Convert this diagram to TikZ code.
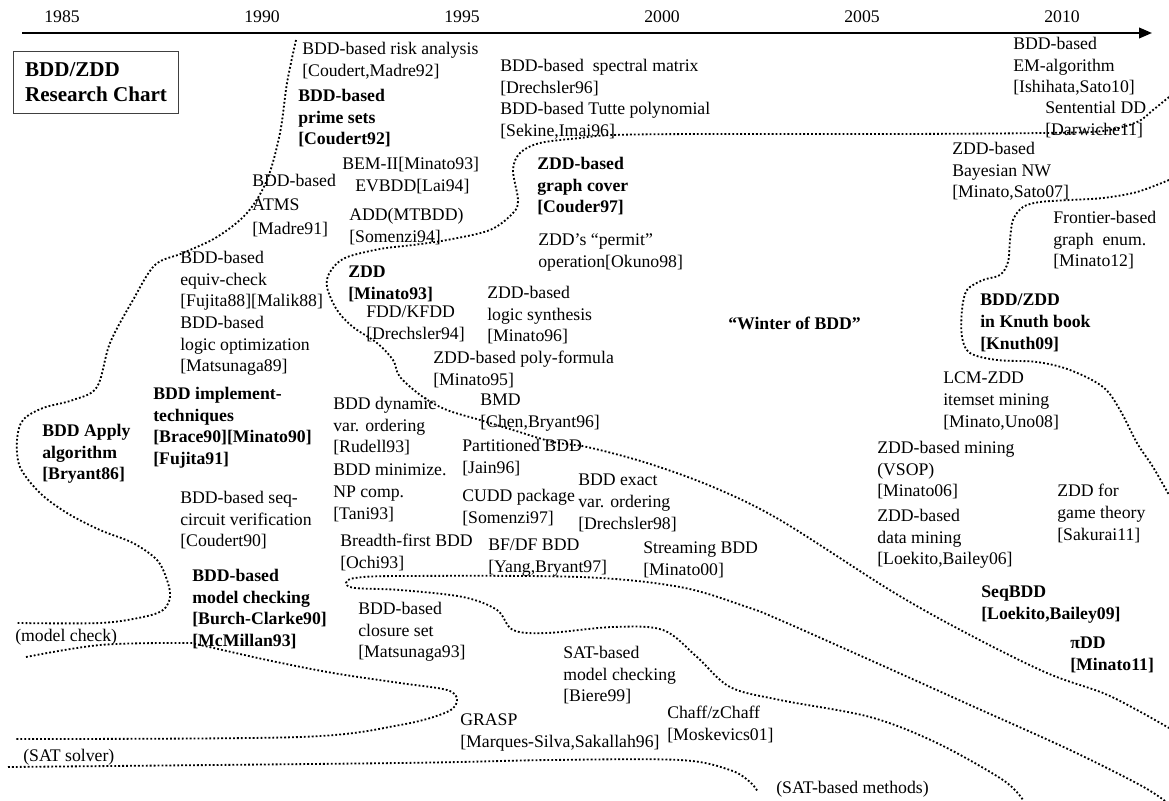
\documentclass[tikz,border=0pt]{standalone}
\usepackage{fontspec}
\setmainfont{Liberation Serif}
\usetikzlibrary{arrows.meta}
\tikzset{
  lb/.style={anchor=north west,align=left,inner sep=0pt,font=\fontsize{12.6}{15.6}\selectfont},
  lbb/.style={lb,font=\fontsize{12.6}{15.6}\selectfont\bfseries},
  yr/.style={inner sep=0pt,font=\fontsize{12.6}{15.6}\selectfont},
  ttl/.style={draw=black!75,line width=.7pt,align=left,inner sep=0pt,
    minimum width=4.125cm,minimum height=1.55cm,font=\fontsize{15}{17.7}\selectfont\bfseries},
  ax/.style={-{Triangle[length=3.2mm,width=2.6mm]},line width=1.5pt},
  % region borders: a dense row of small square dots
  dl/.style={line width=1.3pt,dash pattern=on 1.3pt off 1.5pt},
}
\begin{document}
\begin{tikzpicture}[x=0.025cm,y=-0.025cm]
\useasboundingbox (0,0) rectangle (1169,801);
% time axis
\coordinate (t0) at (22,33);
\coordinate (t1) at (1152,33);
\draw[ax] (t0) -- (t1);
\foreach \yr [count=\i from 0] in {1985,1990,1995,2000,2005,2010}
  \node[yr] (y\yr) at (62+200*\i,17) {\yr};
\node[ttl,anchor=north west] (chart) at (13,51) {BDD/ZDD\\Research Chart};

% left column
\node[lb] (risk) at (302,41.5) {BDD-based risk analysis\\{[Coudert,Madre92]}};
\node[lbb] (prime) at (298,88.5) {BDD-based\\prime sets\\{[Coudert92]}};
\node[lb] (bem) at (342,156.5) {BEM-II[Minato93]};
\node[lb] (evbdd) at (355,178.5) {EVBDD[Lai94]};
\node[lb] (add) at (349,207.5) {ADD(MTBDD)\\{[Somenzi94]}};
\node[lb] (atms) at (252,173.5) {BDD-based\\[1.5pt]ATMS\\[1.5pt]{[Madre91]}};
\node[lb] (equiv) at (180,250.5) {BDD-based\\equiv-check\\{[Fujita88][Malik88]}};
\node[lb] (lopt) at (180,315.5) {BDD-based\\logic optimization\\{[Matsunaga89]}};
\node[lbb] (impl) at (153,386.5) {BDD implement-\\techniques\\{[Brace90][Minato90]}\\{[Fujita91]}};
\node[lbb] (apply) at (42,423.5) {BDD Apply\\algorithm\\{[Bryant86]}};
\node[lb] (seqc) at (180,490.5) {BDD-based seq-\\circuit verification\\{[Coudert90]}};
\node[lbb] (mc) at (192,568.5) {BDD-based\\model checking\\{[Burch-Clarke90]}\\{[McMillan93]}};
\node[lb] (mcl) at (15,628.5) {(model check)};
\node[lb] (satl) at (23,748.5) {(SAT solver)};

% middle
\node[lb] (spec) at (500,58.5) {BDD-based\ \ spectral matrix\\{[Drechsler96]}\\BDD-based Tutte polynomial\\{[Sekine,Imai96]}};
\node[lbb] (cover) at (537,156.5) {ZDD-based\\graph cover\\{[Couder97]}};
\node[lb] (permit) at (538,233.5) {ZDD's “permit”\\operation[Okuno98]};
\node[lbb] (zdd) at (348,265.5) {ZDD\\{[Minato93]}};
\node[lb] (fdd) at (366,305.5) {FDD/KFDD\\{[Drechsler94]}};
\node[lb] (lsyn) at (487,285.5) {ZDD-based\\logic synthesis\\{[Minato96]}};
\node[lb] (poly) at (433,350.5) {ZDD-based poly-formula\\{[Minato95]}};
\node[lb] (dyn) at (333,396.5) {BDD dynamic\\var. ordering\\{[Rudell93]}};
\node[lb] (bmd) at (480,393.5) {BMD\\{[Chen,Bryant96]}};
\node[lb] (part) at (462,438.5) {Partitioned BDD\\{[Jain96]}};
\node[lb] (npc) at (333,463.5) {BDD minimize.\\NP comp.\\{[Tani93]}};
\node[lb] (cudd) at (462,488.5) {CUDD package\\{[Somenzi97]}};
\node[lb] (exact) at (578,473.5) {BDD exact\\var. ordering\\{[Drechsler98]}};
\node[lb] (bfs) at (340,533.5) {Breadth-first BDD\\{[Ochi93]}};
\node[lb] (bfdf) at (488,538.5) {BF/DF BDD\\{[Yang,Bryant97]}};
\node[lb] (strm) at (643,541.5) {Streaming BDD\\{[Minato00]}};
\node[lb] (clos) at (358,601.5) {BDD-based\\closure set\\{[Matsunaga93]}};
\node[lb] (satmc) at (563,645.5) {SAT-based\\model checking\\{[Biere99]}};
\node[lb] (grasp) at (460,713.5) {GRASP\\{[Marques-Silva,Sakallah96]}};
\node[lb] (chaff) at (667,705.5) {Chaff/zChaff\\{[Moskevics01]}};
\node[lb] (satm) at (776,780.5) {(SAT-based methods)};
\node[lbb] (wint) at (728,316.5) {“Winter of BDD”};

% right column
\node[lb] (em) at (1013,36.5) {BDD-based\\EM-algorithm\\{[Ishihata,Sato10]}};
\node[lb] (sdd) at (1045,100.5) {Sentential DD\\{[Darwiche11]}};
\node[lb] (bayes) at (952,141.5) {ZDD-based\\Bayesian NW\\{[Minato,Sato07]}};
\node[lb] (front) at (1053,210.5) {Frontier-based\\graph\ \ enum.\\{[Minato12]}};
\node[lbb] (knuth) at (980,293.5) {BDD/ZDD\\in Knuth book\\{[Knuth09]}};
\node[lb] (lcm) at (943,371.5) {LCM-ZDD\\itemset mining\\{[Minato,Uno08]}};
\node[lb] (vsop) at (877,440.5) {ZDD-based mining\\(VSOP)\\{[Minato06]}};
\node[lb] (dmin) at (877,508.5) {ZDD-based\\data mining\\{[Loekito,Bailey06]}};
\node[lb] (game) at (1057,483.5) {ZDD for\\game theory\\{[Sakurai11]}};
\node[lbb] (seqbdd) at (981,585.5) {SeqBDD\\{[Loekito,Bailey09]}};
\node[lbb] (pidd) at (1070,636.5) {πDD\\{[Minato11]}};

% borders
\draw[dl] plot[smooth,tension=.55] coordinates {(296,40) (287,83) (280,133) (267,180)
  (247,213) (217,237) (183,253) (155,265) (133,300) (110,343) (97,387) (73,400) (43,408)
  (23,420) (17,440) (20,467) (40,493) (67,513) (100,530) (133,543) (157,560) (167,580)
  (170,597) (163,610) (143,617) (100,623) (17,623)};
\draw[dl] plot[smooth,tension=.55] coordinates {(26,657) (100,645) (183,643) (200,645)
  (267,660) (333,673) (400,683) (447,690) (457,700) (447,712) (400,725) (300,737) (15,739)};
\draw[dl] plot[smooth,tension=.55] coordinates {(8,767) (400,763) (550,760) (680,760)
  (730,770) (750,782) (758,792)};
\draw[dl] plot[smooth,tension=.55] coordinates {(1165,801) (1140,785) (1070,750) (970,705)
  (870,660) (780,620) (747,607) (680,587) (580,577) (400,576) (355,578) (346,583) (355,588)
  (400,590) (463,597) (497,610) (513,630) (547,633) (613,627) (663,630) (697,657) (730,687)
  (780,700) (870,717) (937,743) (1003,780) (1023,800)};
\draw[dl] plot[smooth,tension=.55] coordinates {(1169,97) (1153,110) (1137,122) (1103,131)
  (1043,133) (900,134) (700,134) (613,135) (580,138) (540,143) (520,153) (513,170) (518,200)
  (513,213) (490,230) (447,240) (413,245) (380,249) (345,258) (330,272) (327,287) (337,310)
  (353,327) (377,343) (393,360) (400,377) (423,397) (447,410) (480,420) (513,430) (553,442)
  (587,447) (647,463) (713,487) (780,520) (893,592) (970,635) (1047,673) (1103,693)
  (1137,710) (1169,728)};
\draw[dl] plot[smooth,tension=.55] coordinates {(1169,180) (1137,192) (1103,198) (1070,200)
  (1040,202) (1023,207) (1013,220) (1010,240) (1008,262) (1000,275) (983,280) (967,290)
  (962,310) (962,337) (970,353) (997,360) (1037,362) (1070,370) (1103,387) (1120,410)
  (1137,443) (1153,467) (1169,495)};
\end{tikzpicture}
\end{document}
